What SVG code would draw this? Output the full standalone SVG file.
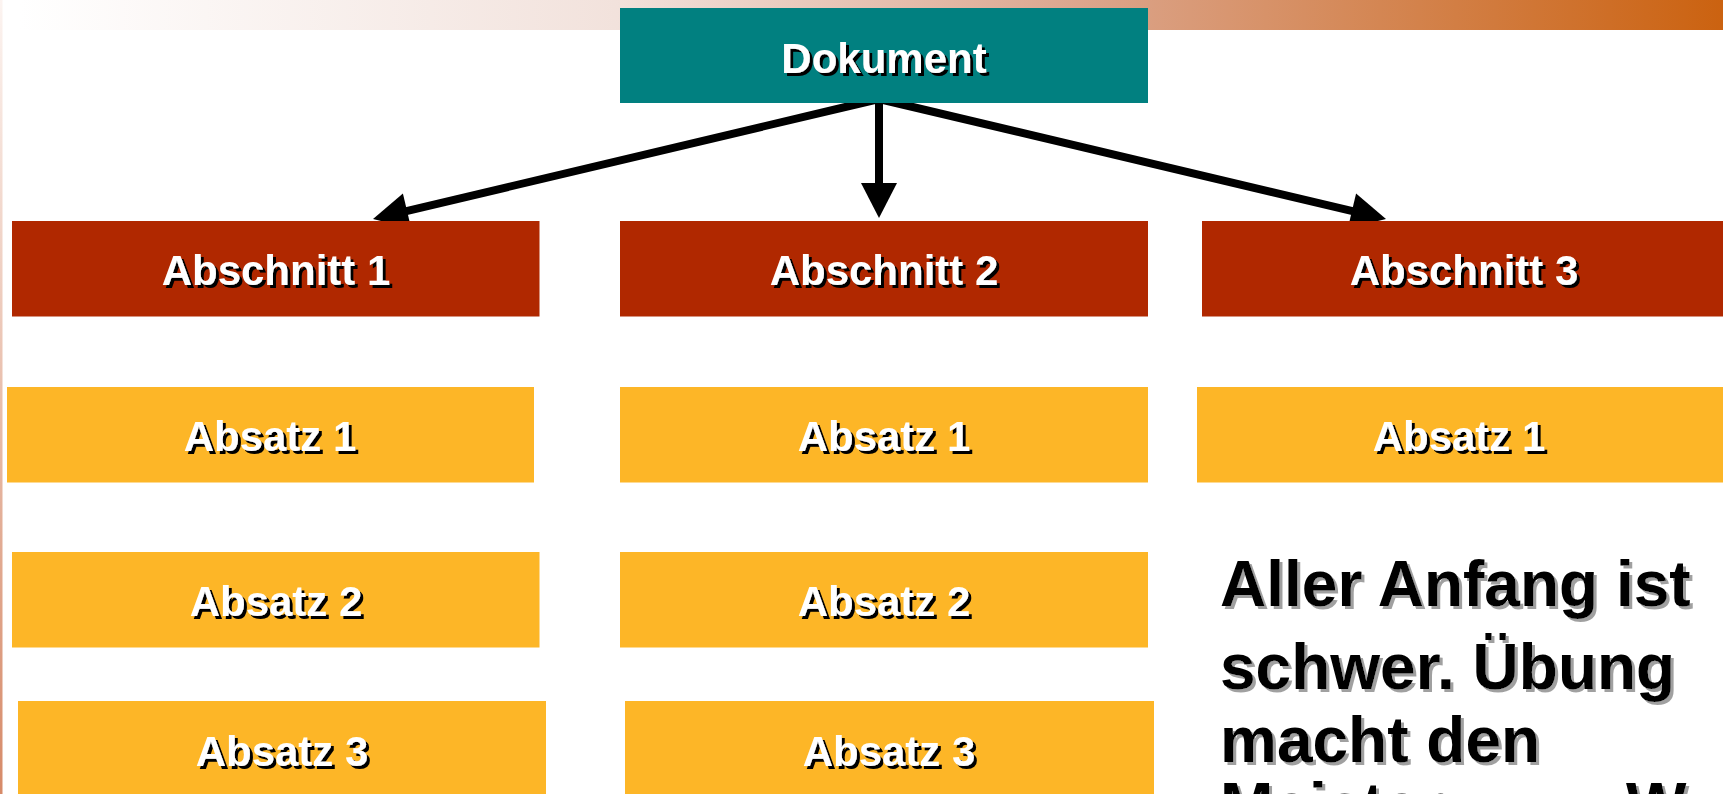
<svg xmlns="http://www.w3.org/2000/svg" width="1723" height="794" viewBox="0 0 1723 794">
<style>
.lbl{font-family:"Liberation Sans",Arial,sans-serif;font-weight:bold;font-size:42px;fill:#fff;text-anchor:middle;filter:url(#sh)}
.big{font-family:"Liberation Sans",Arial,sans-serif;font-weight:bold;font-size:64px;fill:#000;filter:url(#shg)}
.doc{fill:#018080}
.sec{fill:#B02800}
.par{fill:#FDB627}
.con{stroke:#000;stroke-width:8;fill:none;marker-end:url(#ah)}
</style>
<defs>
<linearGradient id="topg" x1="0" y1="0" x2="1" y2="0">
<stop offset="0" stop-color="#FFFFFF"/>
<stop offset="0.35" stop-color="#F2E2DC"/>
<stop offset="0.62" stop-color="#DCA68E"/>
<stop offset="1" stop-color="#CB6210"/>
</linearGradient>
<linearGradient id="leftg" x1="0" y1="0" x2="0" y2="1">
<stop offset="0" stop-color="#FCF4F1"/>
<stop offset="1" stop-color="#D68A68"/>
</linearGradient>
<filter id="sh" x="-10%" y="-20%" width="130%" height="150%">
<feOffset in="SourceAlpha" dx="2.5" dy="2.5" result="o"/>
<feFlood flood-color="#000"/>
<feComposite in2="o" operator="in" result="s"/>
<feMerge><feMergeNode in="s"/><feMergeNode in="SourceGraphic"/></feMerge>
</filter>
<filter id="shg" x="-10%" y="-20%" width="130%" height="150%">
<feOffset in="SourceAlpha" dx="3" dy="3" result="o"/>
<feFlood flood-color="#A0A0A0"/>
<feComposite in2="o" operator="in" result="s"/>
<feMerge><feMergeNode in="s"/><feMergeNode in="SourceGraphic"/></feMerge>
</filter>
<marker id="ah" markerUnits="userSpaceOnUse" markerWidth="40" markerHeight="40" refX="5" refY="18" orient="auto" overflow="visible">
<path d="M0,0 L35,18 L0,36 Z" fill="#000"/>
</marker>
</defs>
<rect x="0" y="0" width="1723" height="794" fill="#fff"/>
<rect x="20" y="0" width="1703" height="30" fill="url(#topg)"/>
<rect x="0" y="0" width="2.5" height="794" fill="url(#leftg)"/>

<g id="connectors">
<path class="con" d="M879,99 L402.2,212.1"/>
<path class="con" d="M879,99 L879,188"/>
<path class="con" d="M879,99 L1356.8,212.1"/>
</g>

<g id="dokument"><rect class="doc" x="620" y="8" width="528" height="95"/><text class="lbl" x="884" y="73">Dokument</text></g>

<g id="abschnitt1"><rect class="sec" x="12" y="221" width="527.5" height="95.5"/><text class="lbl" x="276" y="285">Abschnitt 1</text></g>
<g id="abschnitt2"><rect class="sec" x="620" y="221" width="528" height="95.5"/><text class="lbl" x="884" y="285">Abschnitt 2</text></g>
<g id="abschnitt3"><rect class="sec" x="1202" y="221" width="521" height="95.5"/><text class="lbl" x="1464" y="285">Abschnitt 3</text></g>

<g id="s1-absatz1"><rect class="par" x="7" y="387" width="527" height="95.5"/><text class="lbl" x="270" y="451">Absatz 1</text></g>
<g id="s2-absatz1"><rect class="par" x="620" y="387" width="528" height="95.5"/><text class="lbl" x="884" y="451">Absatz 1</text></g>
<g id="s3-absatz1"><rect class="par" x="1197" y="387" width="526" height="95.5"/><text class="lbl" x="1459" y="451">Absatz 1</text></g>

<g id="s1-absatz2"><rect class="par" x="12" y="552" width="527.5" height="95.5"/><text class="lbl" x="276" y="616">Absatz 2</text></g>
<g id="s2-absatz2"><rect class="par" x="620" y="552" width="528" height="95.5"/><text class="lbl" x="884" y="616">Absatz 2</text></g>

<g id="s1-absatz3"><rect class="par" x="18" y="701" width="528" height="96"/><text class="lbl" x="282" y="766">Absatz 3</text></g>
<g id="s2-absatz3"><rect class="par" x="625" y="701" width="529" height="96"/><text class="lbl" x="889" y="766">Absatz 3</text></g>

<g id="note">
<text class="big" x="1220" y="606">Aller Anfang ist</text>
<text class="big" x="1220" y="689">schwer. Übung</text>
<text class="big" x="1220" y="762">macht den</text>
<text class="big" x="1220" y="828">Meister.<tspan x="1626">W</tspan></text>
</g>
</svg>
